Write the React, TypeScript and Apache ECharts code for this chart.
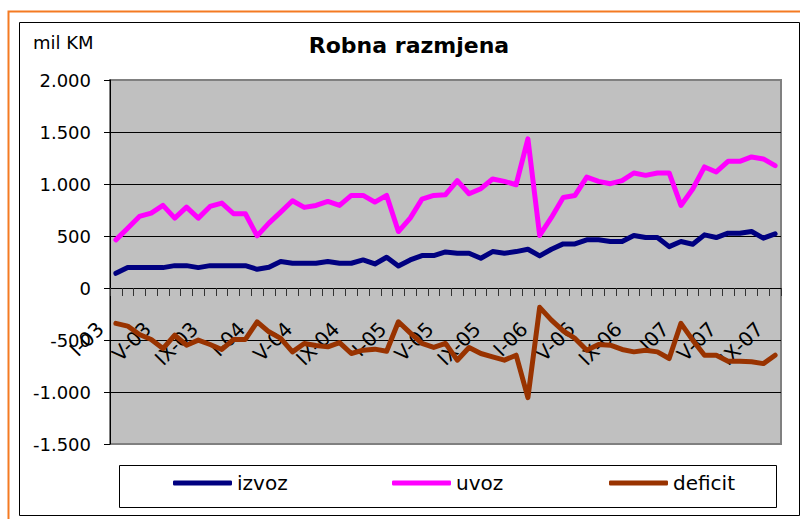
import React, { useEffect, useRef } from "react";
import * as echarts from "echarts";

const categories = [
  "I-03","II-03","III-03","IV-03","V-03","VI-03","VII-03","VIII-03","IX-03","X-03","XI-03","XII-03",
  "I-04","II-04","III-04","IV-04","V-04","VI-04","VII-04","VIII-04","IX-04","X-04","XI-04","XII-04",
  "I-05","II-05","III-05","IV-05","V-05","VI-05","VII-05","VIII-05","IX-05","X-05","XI-05","XII-05",
  "I-06","II-06","III-06","IV-06","V-06","VI-06","VII-06","VIII-06","IX-06","X-06","XI-06","XII-06",
  "I07","II-07","III-07","IV-07","V-07","VI-07","VII-07","VIII-07","IX-07",
];

const izvoz = [141,196,196,196,196,215,215,196,215,215,215,215,180,199,254,238,238,238,254,238,238,270,231,296,212,270,312,312,347,334,334,286,350,334,350,373,309,373,424,424,463,463,447,447,505,485,485,398,447,421,511,485,527,527,543,479,521];
const uvoz = [463,575,688,720,794,672,778,672,784,816,714,714,501,624,730,839,775,794,832,794,890,890,826,890,543,672,855,890,897,1032,906,955,1048,1025,993,1434,505,678,871,890,1067,1025,1003,1032,1106,1083,1106,1106,794,952,1164,1116,1218,1218,1260,1241,1176];
const deficit = [-340,-366,-447,-495,-582,-453,-550,-501,-543,-591,-495,-495,-325,-421,-485,-614,-533,-553,-566,-525,-630,-598,-588,-608,-325,-431,-533,-572,-533,-694,-572,-630,-662,-694,-646,-1054,-186,-309,-413,-485,-598,-543,-550,-591,-614,-598,-614,-678,-340,-501,-646,-646,-704,-704,-710,-727,-646];

const yTickValues = [-1500, -1000, -500, 0, 500, 1000, 1500, 2000];
const yTickLabels = ["-1.500", "-1.000", "-500", "0", "500", "1.000", "1.500", "2.000"];

const seriesNames = ["izvoz", "uvoz", "deficit"];
const seriesColors = ["#000080", "#FF00FF", "#993300"];

const FONT = "DejaVu Sans";

export default function App() {
  const ref = useRef<HTMLDivElement>(null);
  useEffect(() => {
    if (!ref.current) return;
    const chart = echarts.init(ref.current, null, { renderer: "svg" });
    const seriesData = [izvoz, uvoz, deficit];
    const legendLefts = [173, 392, 609];
    chart.setOption({
      animation: false,
      backgroundColor: "#ffffff",
      grid: {
        left: 110,
        top: 80,
        width: 671,
        height: 364,
        show: true,
        backgroundColor: "#C0C0C0",
        borderColor: "#808080",
        borderWidth: 2,
        containLabel: false,
        outerBoundsMode: "none",
      },
      xAxis: {
        type: "category",
        data: categories,
        boundaryGap: true,
        position: "bottom",
        offset: -156,
        axisLine: { onZero: false, lineStyle: { color: "#000000", width: 1 } },
        axisTick: { show: true, interval: 0, length: 8, lineStyle: { color: "#333333" } },
        axisLabel: {
          interval: 3,
          rotate: 45,
          margin: 22,
          padding: [0, 22, 0, 0],
          fontSize: 20,
          fontFamily: FONT,
          color: "#000000",
          hideOverlap: false,
        },
        splitLine: { show: false },
      },
      yAxis: {
        type: "value",
        min: -1500,
        max: 2000,
        interval: 500,
        axisLine: { show: true, lineStyle: { color: "#000000", width: 1 } },
        axisTick: { show: true, length: 6, lineStyle: { color: "#000000" } },
        axisLabel: {
          margin: 19,
          fontSize: 18,
          fontFamily: FONT,
          color: "#000000",
          formatter: (v: number) => {
            const i = yTickValues.indexOf(v);
            return i >= 0 ? yTickLabels[i] : "";
          },
        },
        splitLine: {
          show: true,
          lineStyle: {
            color: ["rgba(0,0,0,0)", "#000", "#000", "#000", "#000", "#000", "#000", "rgba(0,0,0,0)"],
            width: 1,
          },
        },
      },
      legend: seriesNames.map((n, i) => ({
        data: [n],
        left: legendLefts[i],
        top: 473,
        padding: 0,
        icon: "roundRect",
        itemWidth: 59,
        itemHeight: 5,
        textStyle: { fontSize: 20, fontFamily: FONT, color: "#000000" },
      })),
      series: seriesNames.map((n, i) => ({
        name: n,
        type: "line",
        data: seriesData[i],
        symbol: "none",
        color: seriesColors[i],
        lineStyle: { width: 5, color: seriesColors[i], join: "round", cap: "round" },
        z: 3 + i,
      })),
      graphic: [
        {
          type: "rect",
          z: -10,
          shape: { x: 8.5, y: 11.5, width: 820, height: 540 },
          style: { fill: "none", stroke: "#F47A22", lineWidth: 2 },
        },
        {
          type: "rect",
          z: -9,
          shape: { x: 19.5, y: 22.5, width: 780, height: 493 },
          style: { fill: "none", stroke: "#000000", lineWidth: 1 },
        },
        {
          type: "rect",
          z: -8,
          shape: { x: 119.5, y: 465.5, width: 657, height: 42 },
          style: { fill: "#ffffff", stroke: "#000000", lineWidth: 1 },
        },
        {
          type: "text",
          x: 33,
          y: 42,
          style: {
            text: "mil KM",
            fontSize: 18,
            fontFamily: FONT,
            fill: "#000000",
            verticalAlign: "middle",
            align: "left",
          },
        },
        {
          type: "text",
          x: 409,
          y: 45,
          style: {
            text: "Robna razmjena",
            fontSize: 22,
            fontWeight: "bold",
            fontFamily: FONT,
            fill: "#000000",
            verticalAlign: "middle",
            align: "center",
          },
        },
      ],
    });
    return () => chart.dispose();
  }, []);
  return (
    <div
      ref={ref}
      style={{ position: "absolute", left: 0, top: 0, width: 800, height: 519 }}
    />
  );
}
